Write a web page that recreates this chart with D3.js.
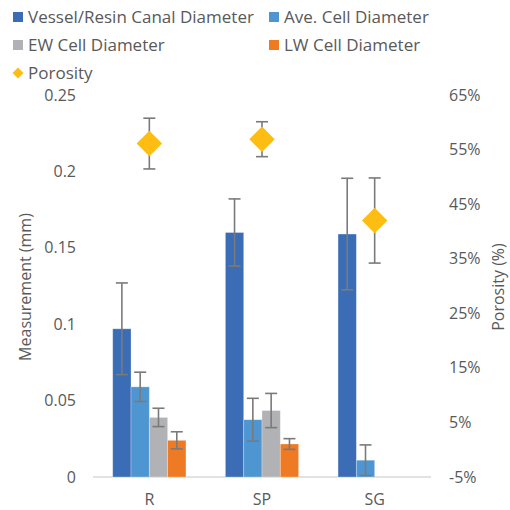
<!DOCTYPE html>
<html>
<head>
<meta charset="utf-8">
<script src="https://cdn.jsdelivr.net/npm/d3@7"></script>
<style>
html,body{margin:0;padding:0;background:#fff;}
svg text{font-family:"Open Sans",Lato,sans-serif;fill:#595959;}
</style>
</head>
<body>
<svg id="chart" width="510" height="510"></svg>
<script>
const categories = ["R", "SP", "SG"];
const seriesNames = ["Vessel/Resin Canal Diameter", "Ave. Cell Diameter", "EW Cell Diameter", "LW Cell Diameter"];
const vessel = [0.097, 0.160, 0.159];
const vesselErr = [0.030, 0.022, 0.0365];
const ave = [0.059, 0.0375, 0.011];
const aveErr = [0.0096, 0.014, 0.010];
const ew = [0.039, 0.0435, null];
const ewErr = [0.006, 0.0112, null];
const lw = [0.024, 0.0216, null];
const lwErr = [0.0056, 0.0035, null];
const porosity = [0.561, 0.569, 0.420];
const porosityErr = [0.0465, 0.032, 0.078];
const leftTicks = [0, 0.05, 0.1, 0.15, 0.2, 0.25];
const rightTicks = [-0.05, 0.05, 0.15, 0.25, 0.35, 0.45, 0.55, 0.65];

const colors = ["#3a6db5", "#4e96d1", "#b1b2b5", "#ee7a24"];
const porColor = "#fdbd13";
const errColor = "#7a7a7a";

const svg = d3.select("#chart");
const plot = {left: 93, right: 431, top: 95, bottom: 477};

const x0 = d3.scaleBand().domain(categories).range([plot.left, plot.right]).padding(0);
const groupW = x0.bandwidth() * 0.65;
const x1 = d3.scaleBand().domain(d3.range(4)).range([-groupW / 2, groupW / 2]);
const yL = d3.scaleLinear().domain([0, 0.25]).range([plot.bottom, plot.top]);
const yR = d3.scaleLinear().domain([-0.05, 0.65]).range([plot.bottom, plot.top]);

const series = [
  {name: seriesNames[0], v: vessel, e: vesselErr},
  {name: seriesNames[1], v: ave, e: aveErr},
  {name: seriesNames[2], v: ew, e: ewErr},
  {name: seriesNames[3], v: lw, e: lwErr}
];

// baseline
svg.append("line").attr("x1", plot.left).attr("x2", plot.right)
  .attr("y1", plot.bottom).attr("y2", plot.bottom)
  .attr("stroke", "#d9d9d9").attr("stroke-width", 1.3);

// bars
series.forEach((s, si) => {
  const g = svg.append("g");
  categories.forEach((c, ci) => {
    const v = s.v[ci];
    if (v == null) return;
    const cx = x0(c) + x0.bandwidth() / 2;
    const bx = cx + x1(si);
    g.append("rect").attr("x", bx).attr("width", x1.bandwidth())
      .attr("y", yL(v)).attr("height", yL(0) - yL(v))
      .attr("fill", colors[si]).attr("stroke", "#ffffff").attr("stroke-opacity", 0.35).attr("stroke-width", 0.8);
  });
});

function errBar(x, yTop, yBot) {
  const cap = 6;
  const g = svg.append("g").attr("stroke", errColor).attr("stroke-width", 1.6);
  g.append("line").attr("x1", x).attr("x2", x).attr("y1", yTop).attr("y2", yBot);
  g.append("line").attr("x1", x - cap).attr("x2", x + cap).attr("y1", yTop).attr("y2", yTop);
  g.append("line").attr("x1", x - cap).attr("x2", x + cap).attr("y1", yBot).attr("y2", yBot);
}

// bar error bars
series.forEach((s, si) => {
  categories.forEach((c, ci) => {
    const v = s.v[ci];
    if (v == null) return;
    const cx = x0(c) + x0.bandwidth() / 2 + x1(si) + x1.bandwidth() / 2;
    errBar(cx, yL(v + s.e[ci]), yL(v - s.e[ci]));
  });
});

// porosity error bars then diamonds on top
categories.forEach((c, ci) => {
  const cx = x0(c) + x0.bandwidth() / 2;
  errBar(cx, yR(porosity[ci] + porosityErr[ci]), yR(porosity[ci] - porosityErr[ci]));
});
categories.forEach((c, ci) => {
  const cx = x0(c) + x0.bandwidth() / 2;
  const cy = yR(porosity[ci]);
  const h = 12.7;
  svg.append("path")
    .attr("d", `M${cx},${cy - h}L${cx + h},${cy}L${cx},${cy + h}L${cx - h},${cy}Z`)
    .attr("fill", porColor);
});

// axes
const fs = 16;
const fsLeg = 17;
const axL = d3.axisLeft(yL).tickValues(leftTicks).tickSize(0).tickPadding(0)
  .tickFormat(d => d === 0 ? "0" : String(+d.toFixed(2)));
const gL = svg.append("g").attr("transform", `translate(76,0)`).call(axL);
gL.select(".domain").remove();
gL.selectAll("text").style("font-size", fs + "px").attr("x", 0).attr("text-anchor", "end").attr("fill", "#595959");

const axR = d3.axisRight(yR).tickValues(rightTicks).tickSize(0).tickPadding(0)
  .tickFormat(d => Math.round(d * 100) + "%");
const gR = svg.append("g").attr("transform", `translate(449,0)`).call(axR);
gR.select(".domain").remove();
gR.selectAll("text").style("font-size", fs + "px").attr("x", 0).attr("text-anchor", "start").attr("fill", "#595959");

const axX = d3.axisBottom(x0).tickSize(0).tickPadding(0);
const gX = svg.append("g").attr("transform", `translate(0,${plot.bottom + 17})`).call(axX);
gX.select(".domain").remove();
gX.selectAll("text").style("font-size", fs + "px").attr("fill", "#595959");

// axis titles
svg.append("text").attr("transform", `translate(31,287) rotate(-90)`)
  .attr("text-anchor", "middle").style("font-size", fs + "px").text("Measurement (mm)");
svg.append("text").attr("transform", `translate(504,287) rotate(-90)`)
  .attr("text-anchor", "middle").style("font-size", fs + "px").text("Porosity (%)");

// legend
const legendItems = [
  {x: 13, y: 17, i: 0}, {x: 269, y: 17, i: 1},
  {x: 13, y: 45, i: 2}, {x: 269, y: 45, i: 3}
];
legendItems.forEach(it => {
  svg.append("rect").attr("x", it.x).attr("y", it.y - 5).attr("width", 10).attr("height", 10).attr("fill", colors[it.i]);
  svg.append("text").attr("x", it.x + 15).attr("y", it.y).attr("dy", "0.35em")
    .style("font-size", fsLeg + "px").text(seriesNames[it.i]);
});
{
  const cx = 18, cy = 73, h = 5.5;
  svg.append("path").attr("d", `M${cx},${cy - h}L${cx + h},${cy}L${cx},${cy + h}L${cx - h},${cy}Z`).attr("fill", porColor);
  svg.append("text").attr("x", 28).attr("y", cy).attr("dy", "0.35em").style("font-size", fsLeg + "px").text("Porosity");
}
</script>
</body>
</html>
